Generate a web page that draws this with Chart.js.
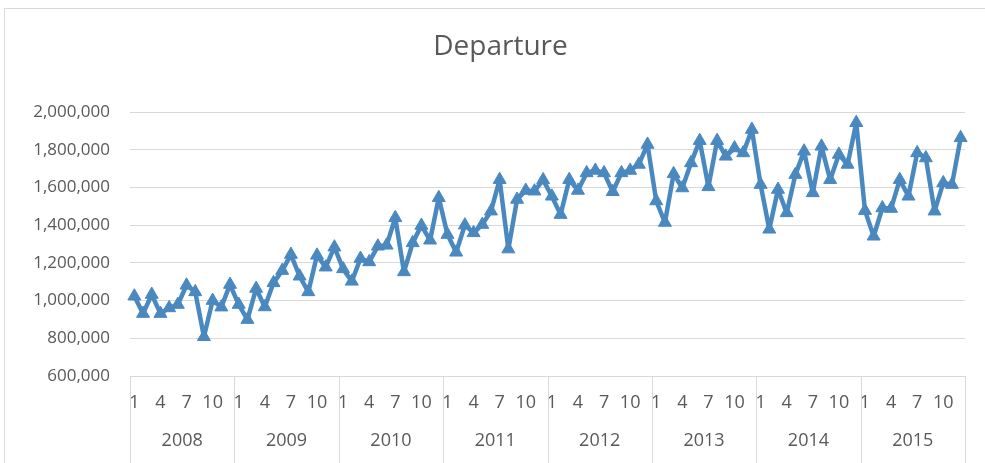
<!DOCTYPE html>
<html>
<head>
<meta charset="utf-8">
<script src="https://cdn.jsdelivr.net/npm/chart.js@4.4.1/dist/chart.umd.min.js"></script>
<style>
    body { margin: 0; background: #fff; }
    #moldura { position: absolute; left: 4px; top: 8px; width: 1000px; height: 480px; border: 1px solid #d9d9d9; }
    #caixa { position: absolute; left: 0; top: 0; width: 985px; height: 463px; }
</style>
</head>
<body>
<div id="moldura"></div>
<div id="caixa"><canvas id="grafico"></canvas></div>
<script>
// dados
const anos = ['2008', '2009', '2010', '2011', '2012', '2013', '2014', '2015'];
const meses = ['1', '2', '3', '4', '5', '6', '7', '8', '9', '10', '11', '12'];
const mesesVisiveis = ['1', '4', '7', '10'];

const dep2008 = [1023000, 931000, 1032000, 931000, 961000, 979000, 1081000, 1046000, 808000, 1000000, 965000, 1085000];
const dep2009 = [979000, 899000, 1064000, 966000, 1094000, 1159000, 1244000, 1129000, 1046000, 1240000, 1177000, 1283000];
const dep2010 = [1168000, 1102000, 1223000, 1205000, 1288000, 1293000, 1439000, 1152000, 1306000, 1398000, 1320000, 1545000];
const dep2011 = [1350000, 1256000, 1400000, 1359000, 1403000, 1474000, 1641000, 1273000, 1536000, 1584000, 1580000, 1640000];
const dep2012 = [1553000, 1456000, 1641000, 1584000, 1677000, 1690000, 1677000, 1577000, 1677000, 1690000, 1722000, 1828000];
const dep2013 = [1528000, 1414000, 1672000, 1597000, 1730000, 1848000, 1603000, 1848000, 1765000, 1809000, 1783000, 1907000];
const dep2014 = [1615000, 1378000, 1589000, 1465000, 1668000, 1792000, 1571000, 1818000, 1641000, 1775000, 1722000, 1943000];
const dep2015 = [1477000, 1341000, 1491000, 1488000, 1641000, 1553000, 1783000, 1756000, 1474000, 1624000, 1615000, 1863000];

const yTicks = { min: 600000, max: 2000000, step: 200000 };

const partidas = [].concat(dep2008, dep2009, dep2010, dep2011, dep2012, dep2013, dep2014, dep2015);
const rotulos = [];
anos.forEach(() => meses.forEach(m => rotulos.push(m)));

const fonte = '"Open Sans", sans-serif';
const cinza = '#595959';
const grade = '#d9d9d9';
const azul = '#4a88c0';

// o titulo no original fica centrado na moldura, nao no canvas
const deslocaTitulo = {
    id: 'deslocaTitulo',
    afterLayout(chart) {
        const t = chart.titleBlock;
        if (t) { t.left += 18; t.right += 18; }
    }
};

// linhas de divisao e rotulos dos anos abaixo dos meses
const eixoAnos = {
    id: 'eixoAnos',
    afterDraw(chart) {
        const ctx = chart.ctx;
        const x = chart.scales.x;
        const area = chart.chartArea;
        const passo = x.getPixelForValue(1) - x.getPixelForValue(0);
        ctx.save();
        ctx.strokeStyle = grade;
        ctx.lineWidth = 1;
        ctx.fillStyle = cinza;
        ctx.font = '18px ' + fonte;
        ctx.textAlign = 'center';
        ctx.textBaseline = 'middle';
        anos.forEach((ano, i) => {
            const ini = x.getPixelForValue(i * 12) - passo / 2;
            const fim = x.getPixelForValue(i * 12 + 11) + passo / 2;
            ctx.beginPath();
            ctx.moveTo(Math.round(ini) + 0.5, area.bottom);
            ctx.lineTo(Math.round(ini) + 0.5, chart.height);
            if (i == anos.length - 1) {
                ctx.moveTo(Math.round(fim) + 0.5, area.bottom);
                ctx.lineTo(Math.round(fim) + 0.5, chart.height);
            }
            ctx.stroke();
            ctx.fillText(ano, (ini + fim) / 2, 441);
        });
        ctx.restore();
    }
};

const ctx = document.getElementById('grafico').getContext('2d');
window.myChart = new Chart(ctx, {
    type: 'line',
    data: {
        labels: rotulos,
        datasets: [{
            label: 'Departure',
            data: partidas,
            borderColor: azul,
            backgroundColor: azul,
            borderWidth: 4.5,
            borderJoinStyle: 'round',
            pointStyle: 'triangle',
            pointRadius: 7.5,
            pointBorderWidth: 1,
            pointBackgroundColor: azul,
            pointBorderColor: azul,
            tension: 0
        }]
    },
    options: {
        responsive: true,
        maintainAspectRatio: false,
        animation: false,
        layout: { padding: { left: 0, right: 20, top: 0, bottom: 0 } },
        plugins: {
            legend: { display: false },
            tooltip: { enabled: false },
            title: {
                display: true,
                text: 'Departure',
                color: cinza,
                font: { family: fonte, size: 28, weight: 'normal' },
                padding: { top: 30, bottom: 48.4 }
            }
        },
        scales: {
            x: {
                offset: true,
                grid: { display: false, drawTicks: false },
                border: { display: false },
                ticks: {
                    autoSkip: false,
                    maxRotation: 0,
                    padding: 16,
                    color: cinza,
                    font: { family: fonte, size: 18 },
                    callback: function (v, i) {
                        const m = rotulos[i];
                        return mesesVisiveis.includes(m) ? m : '';
                    }
                },
                afterFit: s => { s.height = 87; }
            },
            y: {
                min: yTicks.min,
                max: yTicks.max,
                grid: { color: grade, drawTicks: false },
                border: { display: false },
                ticks: {
                    stepSize: yTicks.step,
                    padding: 20,
                    color: cinza,
                    font: { family: fonte, size: 17 },
                    callback: v => v.toLocaleString('en-US')
                },
                afterFit: s => { s.width = 130; }
            }
        }
    },
    plugins: [deslocaTitulo, eixoAnos]
});
</script>
</body>
</html>
